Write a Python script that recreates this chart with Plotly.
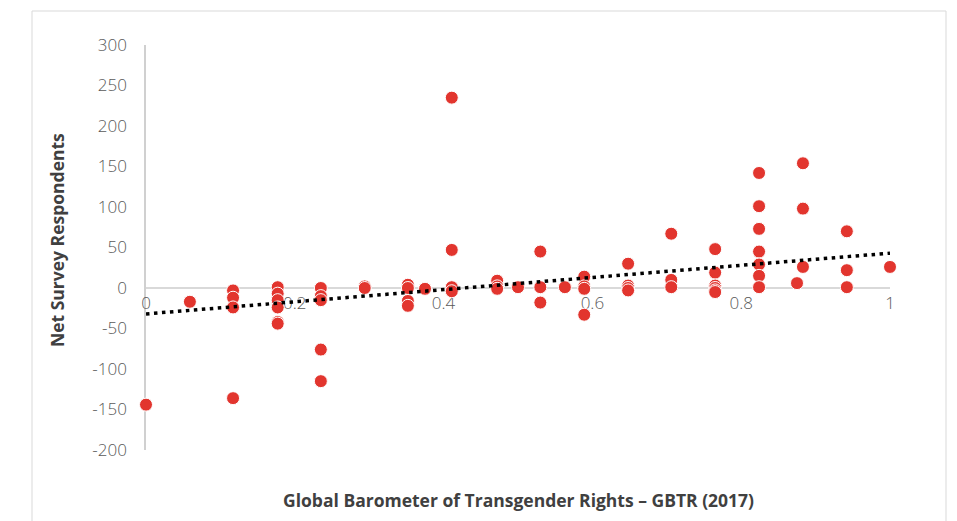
import plotly.graph_objects as go

# GBTR score (x) and net survey respondents (y)
gbtr = [
    0.0,
    0.059,
    0.117, 0.117, 0.117, 0.117,
    0.177, 0.177, 0.177, 0.177, 0.177, 0.177,
    0.235, 0.235, 0.235, 0.235, 0.235,
    0.294, 0.294,
    0.352, 0.352, 0.352, 0.352,
    0.375,
    0.411, 0.411, 0.411, 0.411,
    0.472, 0.472, 0.472,
    0.5,
    0.53, 0.53, 0.53,
    0.563,
    0.589, 0.589, 0.589, 0.589,
    0.648, 0.648, 0.648, 0.648,
    0.706, 0.706, 0.706,
    0.765, 0.765, 0.765, 0.765, 0.765, 0.765,
    0.824, 0.824, 0.824, 0.824, 0.824, 0.824, 0.824,
    0.875,
    0.883, 0.883, 0.883,
    0.942, 0.942, 0.942,
    1.0,
]
net_respondents = [
    -144,
    -17,
    -3, -12, -24, -136,
    1, -7, -15, -24, -42, -44,
    0, -10, -15, -76, -115,
    2, 0,
    4, 0, -16, -22,
    -1,
    235, 47, 1, -4,
    9, 2, -1,
    1,
    45, 1, -18,
    1,
    14, 2, -1, -33,
    30, 3, 0, -3,
    67, 10, 1,
    48, 19, 3, 0, -3, -5,
    142, 101, 73, 45, 29, 15, 1,
    6,
    154, 98, 26,
    70, 22, 1,
    26,
]

# Linear trendline end points
trend_x = [0, 1]
trend_y = [-32, 43]

x_ticks = [0, 0.2, 0.4, 0.6, 0.8, 1]
x_tick_labels = ["0", "0.2", "0.4", "0.6", "0.8", "1"]
y_ticks = [-200, -150, -100, -50, 0, 50, 100, 150, 200, 250, 300]
y_tick_labels = ["-200", "-150", "-100", "-50", "0", "50", "100", "150", "200", "250", "300"]

FONT = "Open Sans"
OFF = 8  # page body margin offset

fig = go.Figure()
fig.add_trace(go.Scatter(
    x=gbtr, y=net_respondents, mode="markers",
    marker=dict(size=13, color="#E2352E", line=dict(color="white", width=1)),
    cliponaxis=False, showlegend=False, hoverinfo="x+y",
))
fig.add_trace(go.Scatter(
    x=trend_x, y=trend_y, mode="lines",
    line=dict(color="black", width=3.5, dash="3.5px,4.5px"),
    cliponaxis=False, showlegend=False, hoverinfo="skip",
))

fig.update_layout(
    width=957 - OFF, height=521 - OFF,
    margin=dict(l=146 - OFF, r=67, t=45 - OFF, b=521 - OFF - (45 - OFF) - 405),
    paper_bgcolor="white", plot_bgcolor="white",
    font=dict(family=FONT, color="#595959"),
    xaxis=dict(
        range=[0, 1], tickvals=x_ticks, ticktext=x_tick_labels,
        showgrid=False, zeroline=False, showline=True,
        linecolor="#D9D9D9", linewidth=2,
        anchor="free", position=0.4,
        ticks="", tickfont=dict(size=17, color="#595959", weight=300),
        layer="below traces",
    ),
    yaxis=dict(
        range=[-200, 300], tickvals=y_ticks, ticktext=y_tick_labels,
        showgrid=False, zeroline=False, showline=True,
        linecolor="#D0D0D0", linewidth=1.5,
        ticks="", ticklabelstandoff=14,
        tickfont=dict(size=17, color="#595959", weight=300),
        layer="below traces",
    ),
    shapes=[dict(
        type="rect", xref="paper", yref="paper",
        x0=(32 - 146) / 744, x1=(946 - 146) / 744,
        y0=-0.3, y1=(450 - 11) / 405,
        line=dict(color="#D9D9D9", width=1), fillcolor="rgba(0,0,0,0)",
        layer="below",
    )],
    annotations=[
        dict(text="<b>Global Barometer of Transgender Rights – GBTR (2017)</b>",
             xref="paper", yref="paper", x=(518 - 146) / 744, y=(450 - 500) / 405,
             showarrow=False, font=dict(size=17.5, color="#404040", family=FONT),
             xanchor="center", yanchor="middle"),
        dict(text="<b>Net Survey Respondents</b>",
             xref="paper", yref="paper", x=(57 - 146) / 744, y=(450 - 240) / 405,
             showarrow=False, textangle=-90,
             font=dict(size=17.5, color="#404040", family=FONT),
             xanchor="center", yanchor="middle"),
    ],
)

fig.write_html("out.html")
